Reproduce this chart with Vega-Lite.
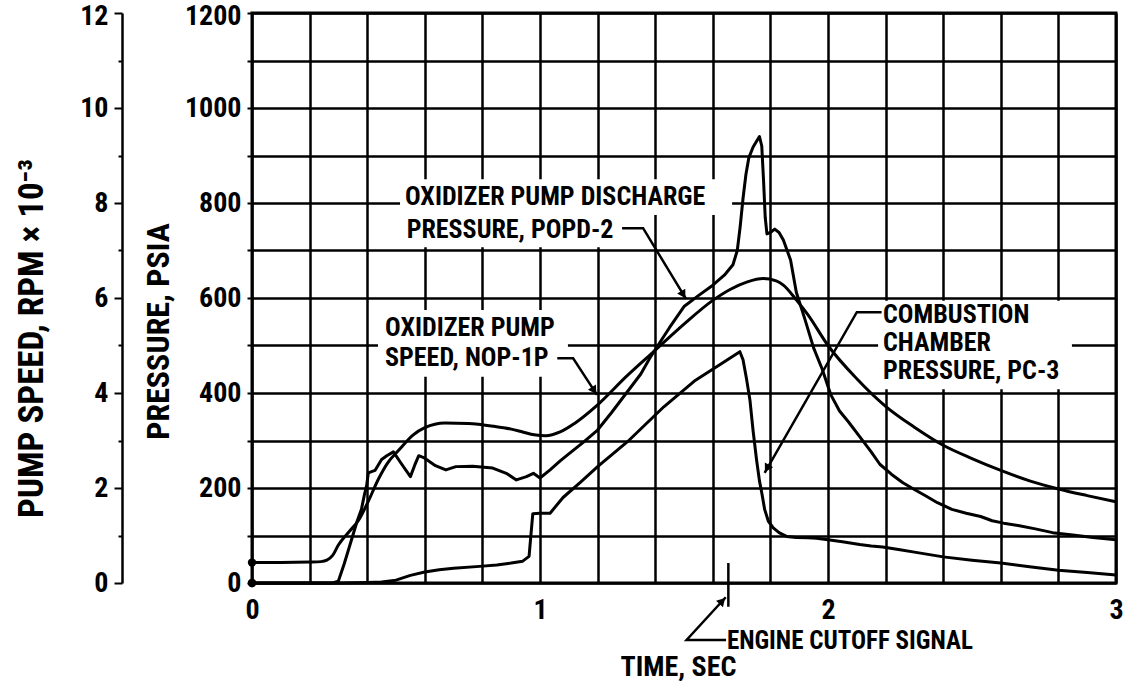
{
  "$schema": "https://vega.github.io/schema/vega-lite/v6.json",
  "width": 864,
  "height": 570,
  "autosize": {"type": "none"},
  "padding": {"left": 252, "top": 13, "right": 9, "bottom": 98},
  "background": "white",
  "config": {
    "view": {"stroke": "black", "strokeWidth": 3},
    "axis": {
      "labelFont": "Roboto Condensed, DejaVu Sans Condensed, sans-serif",
      "titleFont": "Roboto Condensed, DejaVu Sans Condensed, sans-serif",
      "labelFontWeight": "bold",
      "titleFontWeight": "bold",
      "labelColor": "black",
      "titleColor": "black",
      "labelFontSize": 28,
      "labelFlush": false,
      "labelOverlap": false
    }
  },
  "datasets": {
    "curves": [
      {"s":"POPD-2","t":0,"p":0},{"s":"POPD-2","t":0.1,"p":0},{"s":"POPD-2","t":0.2,"p":0},{"s":"POPD-2","t":0.28,"p":0},
      {"s":"POPD-2","t":0.30,"p":4},{"s":"POPD-2","t":0.32,"p":40},{"s":"POPD-2","t":0.345,"p":90},{"s":"POPD-2","t":0.365,"p":130},
      {"s":"POPD-2","t":0.38,"p":155},{"s":"POPD-2","t":0.39,"p":185},{"s":"POPD-2","t":0.398,"p":205},{"s":"POPD-2","t":0.404,"p":232},
      {"s":"POPD-2","t":0.427,"p":237},{"s":"POPD-2","t":0.45,"p":260},{"s":"POPD-2","t":0.468,"p":268},{"s":"POPD-2","t":0.491,"p":276},
      {"s":"POPD-2","t":0.52,"p":250},{"s":"POPD-2","t":0.55,"p":224},{"s":"POPD-2","t":0.565,"p":248},{"s":"POPD-2","t":0.579,"p":268},
      {"s":"POPD-2","t":0.596,"p":264},{"s":"POPD-2","t":0.637,"p":247},{"s":"POPD-2","t":0.673,"p":238},{"s":"POPD-2","t":0.708,"p":245},
      {"s":"POPD-2","t":0.766,"p":246},{"s":"POPD-2","t":0.836,"p":242},{"s":"POPD-2","t":0.883,"p":231},{"s":"POPD-2","t":0.918,"p":217},
      {"s":"POPD-2","t":0.953,"p":224},{"s":"POPD-2","t":0.977,"p":231},{"s":"POPD-2","t":1.0,"p":221},{"s":"POPD-2","t":1.035,"p":238},
      {"s":"POPD-2","t":1.07,"p":257},{"s":"POPD-2","t":1.1,"p":272},{"s":"POPD-2","t":1.15,"p":296},{"s":"POPD-2","t":1.2,"p":322},
      {"s":"POPD-2","t":1.25,"p":360},{"s":"POPD-2","t":1.3,"p":400},{"s":"POPD-2","t":1.35,"p":440},{"s":"POPD-2","t":1.38,"p":472},
      {"s":"POPD-2","t":1.42,"p":510},{"s":"POPD-2","t":1.45,"p":538},{"s":"POPD-2","t":1.5,"p":582},{"s":"POPD-2","t":1.55,"p":605},
      {"s":"POPD-2","t":1.6,"p":627},{"s":"POPD-2","t":1.64,"p":648},{"s":"POPD-2","t":1.67,"p":670},{"s":"POPD-2","t":1.685,"p":700},
      {"s":"POPD-2","t":1.695,"p":750},{"s":"POPD-2","t":1.705,"p":810},{"s":"POPD-2","t":1.715,"p":860},{"s":"POPD-2","t":1.725,"p":895},
      {"s":"POPD-2","t":1.74,"p":918},{"s":"POPD-2","t":1.752,"p":930},{"s":"POPD-2","t":1.762,"p":940},{"s":"POPD-2","t":1.77,"p":920},
      {"s":"POPD-2","t":1.776,"p":850},{"s":"POPD-2","t":1.782,"p":770},{"s":"POPD-2","t":1.788,"p":735},{"s":"POPD-2","t":1.80,"p":738},
      {"s":"POPD-2","t":1.815,"p":745},{"s":"POPD-2","t":1.83,"p":738},{"s":"POPD-2","t":1.845,"p":722},{"s":"POPD-2","t":1.87,"p":680},
      {"s":"POPD-2","t":1.89,"p":612},{"s":"POPD-2","t":1.92,"p":555},{"s":"POPD-2","t":1.95,"p":495},{"s":"POPD-2","t":1.98,"p":450},
      {"s":"POPD-2","t":2.01,"p":396},{"s":"POPD-2","t":2.04,"p":362},{"s":"POPD-2","t":2.07,"p":340},{"s":"POPD-2","t":2.11,"p":308},
      {"s":"POPD-2","t":2.15,"p":276},{"s":"POPD-2","t":2.18,"p":250},{"s":"POPD-2","t":2.22,"p":229},{"s":"POPD-2","t":2.26,"p":211},
      {"s":"POPD-2","t":2.30,"p":197},{"s":"POPD-2","t":2.34,"p":183},{"s":"POPD-2","t":2.38,"p":169},{"s":"POPD-2","t":2.43,"p":155},
      {"s":"POPD-2","t":2.48,"p":147},{"s":"POPD-2","t":2.53,"p":140},{"s":"POPD-2","t":2.57,"p":131},{"s":"POPD-2","t":2.61,"p":126},
      {"s":"POPD-2","t":2.66,"p":121},{"s":"POPD-2","t":2.72,"p":114},{"s":"POPD-2","t":2.78,"p":106},{"s":"POPD-2","t":2.85,"p":101},
      {"s":"POPD-2","t":2.92,"p":96},{"s":"POPD-2","t":3.0,"p":91},
      {"s":"PC-3","t":0,"p":0},{"s":"PC-3","t":0.1,"p":0},{"s":"PC-3","t":0.2,"p":0},{"s":"PC-3","t":0.3,"p":0},
      {"s":"PC-3","t":0.4,"p":1},{"s":"PC-3","t":0.45,"p":2},{"s":"PC-3","t":0.5,"p":6},{"s":"PC-3","t":0.55,"p":16},
      {"s":"PC-3","t":0.6,"p":23},{"s":"PC-3","t":0.65,"p":28},{"s":"PC-3","t":0.7,"p":31},{"s":"PC-3","t":0.79,"p":35},
      {"s":"PC-3","t":0.85,"p":38},{"s":"PC-3","t":0.9,"p":42},{"s":"PC-3","t":0.94,"p":46},{"s":"PC-3","t":0.962,"p":56},
      {"s":"PC-3","t":0.975,"p":146},{"s":"PC-3","t":1.0,"p":147},{"s":"PC-3","t":1.035,"p":147},{"s":"PC-3","t":1.08,"p":180},
      {"s":"PC-3","t":1.14,"p":212},{"s":"PC-3","t":1.2,"p":245},{"s":"PC-3","t":1.31,"p":301},{"s":"PC-3","t":1.43,"p":371},
      {"s":"PC-3","t":1.54,"p":427},{"s":"PC-3","t":1.62,"p":458},{"s":"PC-3","t":1.694,"p":487},{"s":"PC-3","t":1.705,"p":470},
      {"s":"PC-3","t":1.717,"p":430},{"s":"PC-3","t":1.729,"p":385},{"s":"PC-3","t":1.74,"p":320},{"s":"PC-3","t":1.752,"p":259},
      {"s":"PC-3","t":1.762,"p":215},{"s":"PC-3","t":1.77,"p":190},{"s":"PC-3","t":1.78,"p":155},{"s":"PC-3","t":1.793,"p":130},
      {"s":"PC-3","t":1.81,"p":116},{"s":"PC-3","t":1.83,"p":106},{"s":"PC-3","t":1.856,"p":98},{"s":"PC-3","t":1.89,"p":96},
      {"s":"PC-3","t":1.93,"p":95},{"s":"PC-3","t":1.96,"p":94},{"s":"PC-3","t":2.0,"p":91},{"s":"PC-3","t":2.05,"p":87},
      {"s":"PC-3","t":2.11,"p":81},{"s":"PC-3","t":2.15,"p":78},{"s":"PC-3","t":2.19,"p":76},{"s":"PC-3","t":2.25,"p":70},
      {"s":"PC-3","t":2.3,"p":65},{"s":"PC-3","t":2.4,"p":55},{"s":"PC-3","t":2.5,"p":48},{"s":"PC-3","t":2.6,"p":42},
      {"s":"PC-3","t":2.7,"p":34},{"s":"PC-3","t":2.8,"p":27},{"s":"PC-3","t":2.9,"p":22},{"s":"PC-3","t":3.0,"p":17}
    ],
    "speed": [
      {"t":0,"k":0.43},{"t":0.1,"k":0.43},{"t":0.2,"k":0.44},{"t":0.24,"k":0.45},{"t":0.26,"k":0.48},{"t":0.28,"k":0.58},
      {"t":0.30,"k":0.80},{"t":0.34,"k":1.10},{"t":0.37,"k":1.32},{"t":0.40,"k":1.67},{"t":0.44,"k":2.20},{"t":0.47,"k":2.52},
      {"t":0.51,"k":2.80},{"t":0.56,"k":3.12},{"t":0.60,"k":3.27},{"t":0.67,"k":3.37},{"t":0.75,"k":3.36},{"t":0.84,"k":3.30},
      {"t":0.90,"k":3.24},{"t":0.94,"k":3.18},{"t":0.98,"k":3.12},{"t":1.02,"k":3.10},{"t":1.07,"k":3.18},{"t":1.12,"k":3.36},
      {"t":1.2,"k":3.75},{"t":1.3,"k":4.35},{"t":1.4,"k":4.90},{"t":1.5,"k":5.45},{"t":1.6,"k":5.95},{"t":1.66,"k":6.18},
      {"t":1.72,"k":6.34},{"t":1.775,"k":6.41},{"t":1.82,"k":6.36},{"t":1.845,"k":6.27},{"t":1.89,"k":5.96},{"t":1.93,"k":5.65},
      {"t":2.0,"k":5.0},{"t":2.1,"k":4.30},{"t":2.2,"k":3.72},{"t":2.3,"k":3.28},{"t":2.4,"k":2.90},{"t":2.5,"k":2.62},
      {"t":2.6,"k":2.37},{"t":2.7,"k":2.15},{"t":2.8,"k":1.98},{"t":2.9,"k":1.84},{"t":3.0,"k":1.71}
    ],
    "masks": [
      {"t":0.514,"t2":1.667,"p":775,"p2":850},
      {"t":0.514,"t2":1.35,"p":707,"p2":775},
      {"t":0.4375,"t2":1.097,"p":434,"p2":575},
      {"t":2.174,"t2":2.847,"p":408,"p2":594}
    ],
    "labels": [
      {"txt":"OXIDIZER PUMP DISCHARGE","t":0.531,"p":812},
      {"txt":"PRESSURE, POPD-2","t":0.537,"p":743},
      {"txt":"OXIDIZER PUMP","t":0.462,"p":537},
      {"txt":"SPEED, NOP-1P","t":0.462,"p":474},
      {"txt":"COMBUSTION","t":2.191,"p":564},
      {"txt":"CHAMBER","t":2.191,"p":505},
      {"txt":"PRESSURE, PC-3","t":2.191,"p":446}
    ],
    "notes": [
      {"txt":"ENGINE CUTOFF SIGNAL","t":1.649,"p":-123}
    ],
    "leaders": [
      {"id":"popd","i":0,"t":1.285,"p":747},{"id":"popd","i":1,"t":1.358,"p":747},{"id":"popd","i":2,"t":1.507,"p":598},
      {"id":"nop","i":0,"t":1.06,"p":473},{"id":"nop","i":1,"t":1.115,"p":473},{"id":"nop","i":2,"t":1.198,"p":396},
      {"id":"comb","i":0,"t":2.186,"p":570},{"id":"comb","i":1,"t":2.10,"p":570},{"id":"comb","i":2,"t":1.78,"p":232},
      {"id":"engine","i":0,"t":1.646,"p":-120},{"id":"engine","i":1,"t":1.509,"p":-120},{"id":"engine","i":2,"t":1.645,"p":-30},
      {"id":"cutoff","i":0,"t":1.654,"p":42},{"id":"cutoff","i":1,"t":1.654,"p":-50}
    ],
    "arrows": [
      {"id":"popd","t":1.4976,"p":607},
      {"id":"nop","t":1.188,"p":405},
      {"id":"comb","t":1.788,"p":241},
      {"id":"engine","t":1.633,"p":-38}
    ]
  },
  "encoding": {
    "x": {
      "field": "t",
      "type": "quantitative",
      "scale": {"domain": [0, 3], "nice": false, "zero": false},
      "axis": {
        "title": "TIME, SEC",
        "values": [0,0.2,0.4,0.6,0.8,1,1.2,1.4,1.6,1.8,2,2.2,2.4,2.6,2.8,3],
        "labelExpr": "abs(datum.value - round(datum.value)) < 0.001 ? '' + round(datum.value) : ''",
        "grid": true, "gridColor": "black", "gridWidth": 2.5, "gridOpacity": 1,
        "domain": false, "ticks": false,
        "labelPadding": 13, "labelAngle": 0,
        "titleFontSize": 28, "titleBaseline": "alphabetic", "titleY": 92, "titleX": 426, "titleAlign": "center"
      }
    }
  },
  "layer": [
    {
      "encoding": {
        "y": {
          "field": "p",
          "type": "quantitative",
          "scale": {"domain": [0, 1200], "nice": false},
          "axis": {
            "title": "PRESSURE, PSIA",
            "values": [0,100,200,300,400,500,600,700,800,900,1000,1100,1200],
            "format": "d",
            "labelExpr": "datum.value % 200 === 0 ? datum.label : ''",
            "labelOffset": {"condition": {"test": "datum.value === 1200", "value": 3}, "value": 0},
            "grid": true, "gridColor": "black", "gridWidth": 2.5, "gridOpacity": 1,
            "domain": false, "ticks": true, "tickColor": "black", "tickWidth": 2, "tickSize": 5,
            "labelPadding": 6,
            "titleFontSize": 32, "titleAngle": -90, "titleBaseline": "alphabetic", "titleX": -84, "titleY": 318, "titleAlign": "center"
          }
        }
      },
      "layer": [
        {
          "data": {"name": "masks"},
          "mark": {"type": "rect", "fill": "white", "strokeWidth": 0},
          "encoding": {"x2": {"field": "t2"}, "y2": {"field": "p2"}}
        },
        {
          "data": {"name": "curves"},
          "mark": {"type": "line", "color": "black", "strokeWidth": 3, "strokeJoin": "round"},
          "encoding": {"detail": {"field": "s"}}
        },
        {
          "data": {"name": "curves"},
          "transform": [{"filter": "datum.t === 0"}],
          "mark": {"type": "point", "filled": true, "color": "black", "size": 70, "opacity": 1}
        },
        {
          "data": {"name": "leaders"},
          "mark": {"type": "line", "color": "black", "strokeWidth": 2.5},
          "encoding": {"detail": {"field": "id"}, "order": {"field": "i"}}
        },
        {
          "data": {"name": "arrows"},
          "transform": [{"filter": "datum.id === 'popd'"}],
          "mark": {"type": "point", "shape": "triangle-up", "filled": true, "color": "black", "size": 90, "opacity": 1, "angle": 149}
        },
        {
          "data": {"name": "arrows"},
          "transform": [{"filter": "datum.id === 'nop'"}],
          "mark": {"type": "point", "shape": "triangle-up", "filled": true, "color": "black", "size": 90, "opacity": 1, "angle": 147}
        },
        {
          "data": {"name": "arrows"},
          "transform": [{"filter": "datum.id === 'comb'"}],
          "mark": {"type": "point", "shape": "triangle-up", "filled": true, "color": "black", "size": 90, "opacity": 1, "angle": 210}
        },
        {
          "data": {"name": "arrows"},
          "transform": [{"filter": "datum.id === 'engine'"}],
          "mark": {"type": "point", "shape": "triangle-up", "filled": true, "color": "black", "size": 90, "opacity": 1, "angle": 43}
        },
        {
          "data": {"name": "labels"},
          "mark": {"type": "text", "align": "left", "baseline": "middle", "font": "Roboto Condensed, DejaVu Sans Condensed, sans-serif", "fontWeight": "bold", "fontSize": 26, "color": "black"},
          "encoding": {"text": {"field": "txt"}}
        },
        {
          "data": {"name": "notes"},
          "mark": {"type": "text", "align": "left", "baseline": "middle", "font": "Roboto Condensed, DejaVu Sans Condensed, sans-serif", "fontWeight": "bold", "fontSize": 25, "color": "black"},
          "encoding": {"text": {"field": "txt"}}
        }
      ]
    },
    {
      "data": {"name": "speed"},
      "encoding": {
        "y": {
          "field": "k",
          "type": "quantitative",
          "scale": {"domain": [0, 12], "nice": false},
          "axis": {
            "orient": "left",
            "offset": 130,
            "title": "PUMP SPEED, RPM × 10⁻³",
            "values": [0,1,2,3,4,5,6,7,8,9,10,11,12],
            "labelExpr": "datum.value % 2 === 0 ? datum.label : ''",
            "labelOffset": {"condition": {"test": "datum.value === 12", "value": 3}, "value": 0},
            "grid": false,
            "domain": true, "domainColor": "black", "domainWidth": 2.5,
            "ticks": true, "tickColor": "black", "tickWidth": 2,
            "tickSize": {"condition": {"test": "datum.value % 2 === 1", "value": 4}, "value": 8},
            "labelPadding": 6,
            "titleFontSize": 35, "titleAngle": -90, "titleBaseline": "alphabetic", "titleX": -80, "titleY": 325, "titleAlign": "center"
          }
        }
      },
      "layer": [
        {
          "mark": {"type": "line", "color": "black", "strokeWidth": 3, "interpolate": "monotone"},
          "encoding": {}
        },
        {
          "transform": [{"filter": "datum.t === 0"}],
          "mark": {"type": "point", "filled": true, "color": "black", "size": 70, "opacity": 1}
        }
      ]
    }
  ],
  "resolve": {"scale": {"y": "independent"}}
}
